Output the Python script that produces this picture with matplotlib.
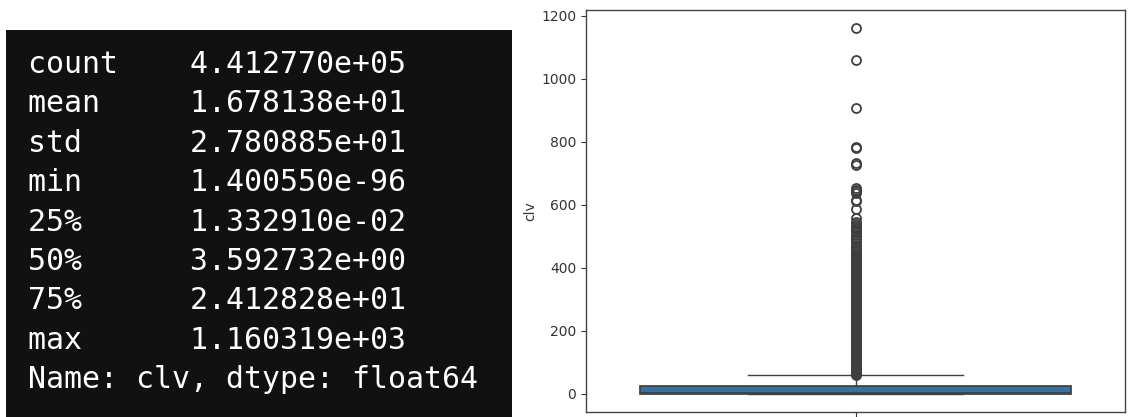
import matplotlib
matplotlib.use("Agg")
import matplotlib.pyplot as plt

# Summary statistics of the clv column (pandas describe output)
stat_names = ["count", "mean", "std", "min", "25%", "50%", "75%", "max"]
stat_values = [4.412770e+05, 1.678138e+01, 2.780885e+01, 1.400550e-96,
               1.332910e-02, 3.592732e+00, 2.412828e+01, 1.160319e+03]
series_name = "clv"
series_dtype = "float64"

# Upper whisker end (largest value within Q3 + 1.5*IQR)
whisker_high = 59.5

# Values beyond the upper whisker: sparse top range
outliers_high = [
    1160.319, 1061.0, 906.0, 784.0, 779.0, 731.0, 727.0, 652.0, 648.0, 643.0,
    637.0, 616.0, 612.0, 585.0, 558.0, 545.0, 538.0, 532.0, 527.0, 522.0,
    518.0, 512.0, 505.0, 498.0, 492.0, 485.0, 478.0, 470.0, 465.0, 458.0,
    452.0, 447.0, 441.0, 436.0, 431.0,
]
# Values beyond the upper whisker: dense lower range
outliers_dense = [
    427.0, 424.5, 422.0, 419.0, 416.0, 413.5, 411.0, 408.0, 405.0, 402.5,
    400.0, 397.0, 394.0, 391.5, 389.0, 386.0, 383.0, 380.0, 377.0, 374.5,
    372.0, 369.0, 366.0, 363.5, 361.0, 358.0, 355.0, 352.5, 350.0, 347.0,
    344.0, 341.5, 339.0, 336.0, 333.0, 330.5, 328.0, 325.5, 323.0, 320.5,
    318.0, 315.0, 312.0, 309.5, 307.0, 304.5, 302.0, 299.5, 297.0, 294.5,
    292.0, 289.5, 287.0, 284.5, 282.0, 279.5, 277.0, 274.5, 272.0, 269.5,
    267.0, 264.5, 262.0, 259.5, 257.0, 254.5, 252.0, 249.5, 247.0, 244.5,
    242.0, 240.0, 238.0, 235.5, 233.0, 230.5, 228.0, 225.5, 223.0, 221.0,
    219.0, 216.5, 214.0, 211.5, 209.0, 207.0, 205.0, 202.5, 200.0, 197.5,
    195.0, 193.0, 191.0, 188.5, 186.0, 184.0, 182.0, 179.5, 177.0, 175.0,
    173.0, 170.5, 168.0, 166.0, 164.0, 162.0, 160.0, 157.5, 155.0, 153.0,
    151.0, 149.0, 147.0, 144.5, 142.0, 140.0, 138.0, 136.0, 134.0, 132.0,
    130.0, 128.0, 126.0, 124.0, 122.0, 120.0, 118.0, 116.0, 114.0, 112.0,
    110.0, 108.0, 106.0, 104.5, 103.0, 101.0, 99.0, 97.0, 95.0, 93.5,
    92.0, 90.0, 88.0, 86.5, 85.0, 83.0, 81.0, 79.5, 78.0, 76.5,
    75.0, 73.5, 72.0, 70.5, 69.0, 67.5, 66.0, 64.5, 63.0, 61.7, 60.5,
]

W, H = 1128, 417
fig = plt.figure(figsize=(W / 100, H / 100), dpi=100)
fig.patch.set_facecolor("white")

# ---- Left: dark console panel with the describe() output ----
panel = fig.add_axes([6 / W, 0, 506 / W, 387 / H])
panel.set_facecolor("#111111")
panel.set_xticks([])
panel.set_yticks([])
for s in panel.spines.values():
    s.set_visible(False)

lines = [f"{n:<9}{v:e}" for n, v in zip(stat_names, stat_values)]
lines.append(f"Name: {series_name}, dtype: {series_dtype}")
first_baseline, step = 73, 39.4
for i, line in enumerate(lines):
    y_px = first_baseline + i * step
    fig.text(28 / W, (H - y_px) / H, line, color="white",
             family="DejaVu Sans Mono", fontsize=21.5, va="baseline", ha="left")

# ---- Right: box plot of clv ----
ax = fig.add_axes([586 / W, 5 / H, 539 / W, 402 / H])
stats = [{
    "med": stat_values[5],
    "q1": stat_values[4],
    "q3": stat_values[6],
    "whislo": stat_values[3],
    "whishi": whisker_high,
    "fliers": outliers_high + outliers_dense,
}]
line_col = "#3f3f3f"
ax.bxp(stats, positions=[0], widths=0.8, patch_artist=True,
       capwidths=0.4,
       boxprops=dict(facecolor="#3274a1", edgecolor=line_col, linewidth=1.25),
       medianprops=dict(color=line_col, linewidth=1.25),
       whiskerprops=dict(color=line_col, linewidth=1.0),
       capprops=dict(color=line_col, linewidth=1.0),
       flierprops=dict(marker="o", markersize=6.5, markerfacecolor="none",
                       markeredgecolor=line_col, markeredgewidth=1.3,
                       linestyle="none"))
ax.set_xlim(-0.5, 0.5)
ax.set_xticks([0])
ax.set_xticklabels([""])
ax.set_yticks([0, 200, 400, 600, 800, 1000, 1200])
ax.set_ylabel(series_name, fontsize=10, color="#333333", labelpad=3)
ax.tick_params(axis="both", labelsize=10, labelcolor="#333333", color="#333333")
for s in ax.spines.values():
    s.set_color("#444444")
    s.set_linewidth(1.0)

fig.savefig("out.png", dpi=100)
